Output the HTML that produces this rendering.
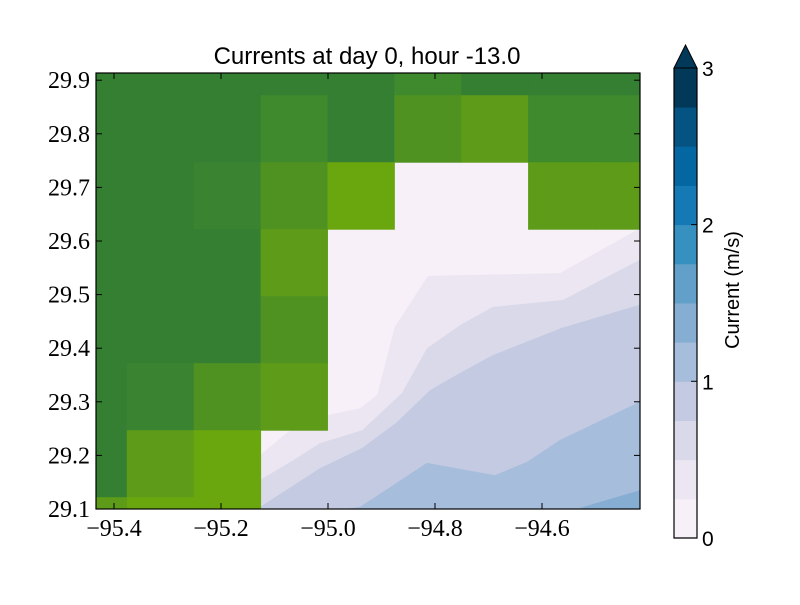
<!DOCTYPE html>
<html><head><meta charset="utf-8"><style>
body{margin:0;background:#fff}
svg text{font-family:"Liberation Serif",serif}
</style></head><body>
<svg width="800" height="600" xmlns="http://www.w3.org/2000/svg">
<rect width="800" height="600" fill="#fff"/>
<defs><clipPath id="pc"><rect x="96" y="73" width="544" height="436"/></clipPath></defs>
<g id="plot" clip-path="url(#pc)"></g>
<rect x="96" y="73" width="544" height="436" fill="none" stroke="#000" stroke-width="1.2"/>
<g id="axes"></g>
<text x="367" y="64" text-anchor="middle" style="font-family:'Liberation Sans',sans-serif;font-size:24px">Currents at day 0, hour -13.0</text>
<g id="cbar"></g>
<text transform="translate(739,290) rotate(-90)" text-anchor="middle" style="font-family:'Liberation Sans',sans-serif;font-size:20px">Current (m/s)</text>
</svg>
<script>
const xTicks=[-95.4,-95.2,-95.0,-94.8,-94.6];
const xTickLabels=["−95.4","−95.2","−95.0","−94.8","−94.6"];
const yTicks=[29.1,29.2,29.3,29.4,29.5,29.6,29.7,29.8,29.9];
const yTickLabels=["29.1","29.2","29.3","29.4","29.5","29.6","29.7","29.8","29.9"];
const levelColors=["#f7f0f8","#ebe6f1","#dad9ea","#c3cae2","#a6bddb","#86aed2","#62a0c9","#3690c0","#1479b5","#0567a2","#045382","#023858"];
const cbTicks=[0,1,2,3];
const bLon=[[-94.417,-94.529,-94.566,-94.813,-94.875,-94.908,-94.940,-95.015,-95.071,-95.249],
[-94.417,-94.561,-94.692,-94.753,-94.815,-94.862,-94.936,-95.015,-95.065,-95.127,-95.196],
[-94.417,-94.563,-94.692,-94.753,-94.809,-94.871,-94.936,-95.015,-95.133],
[-94.417,-94.566,-94.628,-94.688,-94.815,-94.940,-94.968],
[-94.417,-94.529]];
const bLat=[[29.624,29.561,29.540,29.535,29.440,29.313,29.288,29.272,29.247,29.100],
[29.565,29.490,29.477,29.443,29.400,29.316,29.247,29.223,29.191,29.154,29.100],
[29.481,29.438,29.387,29.354,29.322,29.262,29.214,29.176,29.100],
[29.300,29.229,29.188,29.163,29.186,29.104,29.100],
[29.135,29.102]];
const cellLon0=-95.501, cellLat0=29.997, cellSize=0.125;
const greens=["#357f33","#3a8331","#3f8a2d","#4f9222","#5d9b18","#6aa60d"];
const N=null;
const cells=[[0,0,0,0,0,2,0,0,0],
[0,0,0,2,0,3,4,2,2],
[0,0,1,3,5,N,N,4,4],
[0,0,0,4,N,N,N,N,N],
[0,0,0,3,N,N,N,N,N],
[0,1,3,4,N,N,N,N,N],
[0,4,5,N,N,N,N,N,N],
[4,5,5,N,N,N,N,N,N]];
const xs=v=>114+(v+95.4)*535, ys=v=>509-(v-29.1)*536;
const NS="http://www.w3.org/2000/svg";
function mk(t,a,p){const e=document.createElementNS(NS,t);for(const k in a)e.setAttribute(k,a[k]);p.appendChild(e);return e;}
const plot=document.getElementById('plot'),axes=document.getElementById('axes'),cbar=document.getElementById('cbar');
let bg=mk('rect',{x:96,y:73,width:544,height:436,fill:levelColors[0]},plot);


bLon.forEach((lo,i)=>{let pts=lo.map((v,j)=>xs(v)+','+ys(bLat[i][j]));pts.push('645,515');
 const p=mk('polygon',{points:pts.join(' '),fill:levelColors[i+1]},plot);
 
 });
cells.forEach((row,r)=>row.forEach((c,k)=>{if(c===null)return;
 const x0=xs(cellLon0+k*cellSize),x1=xs(cellLon0+(k+1)*cellSize),y0=ys(cellLat0-r*cellSize),y1=ys(cellLat0-(r+1)*cellSize);
 const e=mk('rect',{x:x0,y:y0,width:x1-x0+0.5,height:y1-y0+0.5,fill:greens[c]},plot);
 
 }));
xTicks.forEach((v,i)=>{const x=xs(v);
 mk('line',{x1:x,x2:x,y1:509,y2:503,stroke:'#000'},axes);mk('line',{x1:x,x2:x,y1:73,y2:79,stroke:'#000'},axes);
 const t=mk('text',{x:x,y:536,'text-anchor':'middle','font-size':24},axes);t.textContent=xTickLabels[i];
 
 });
yTicks.forEach((v,i)=>{const y=ys(v);
 mk('line',{x1:96,x2:102,y1:y,y2:y,stroke:'#000'},axes);mk('line',{x1:640,x2:634,y1:y,y2:y,stroke:'#000'},axes);
 const t=mk('text',{x:90,y:y+8,'text-anchor':'end','font-size':24},axes);t.textContent=yTickLabels[i];
 
 });
const cy=v=>538-v*156.7;
levelColors.forEach((c,i)=>{const e=mk('rect',{x:674,y:cy((i+1)*0.25),width:23,height:cy(i*0.25)-cy((i+1)*0.25)+0.5,fill:c},cbar);
 
 });
mk('polygon',{points:'674,68 697,68 685.5,45',fill:levelColors[11],stroke:'#000','stroke-width':1},cbar);
mk('path',{d:'M674,68 L674,538 L697,538 L697,68',fill:'none',stroke:'#000','stroke-width':1.2},cbar);
cbTicks.forEach(v=>{const y=cy(v);mk('line',{x1:697,x2:691,y1:y,y2:y,stroke:'#000'},cbar);
 const t=mk('text',{x:702,y:y+8,'font-size':21,style:"font-family:'Liberation Sans',sans-serif"},cbar);t.textContent=String(v);
 
 });
</script>
</body></html>
